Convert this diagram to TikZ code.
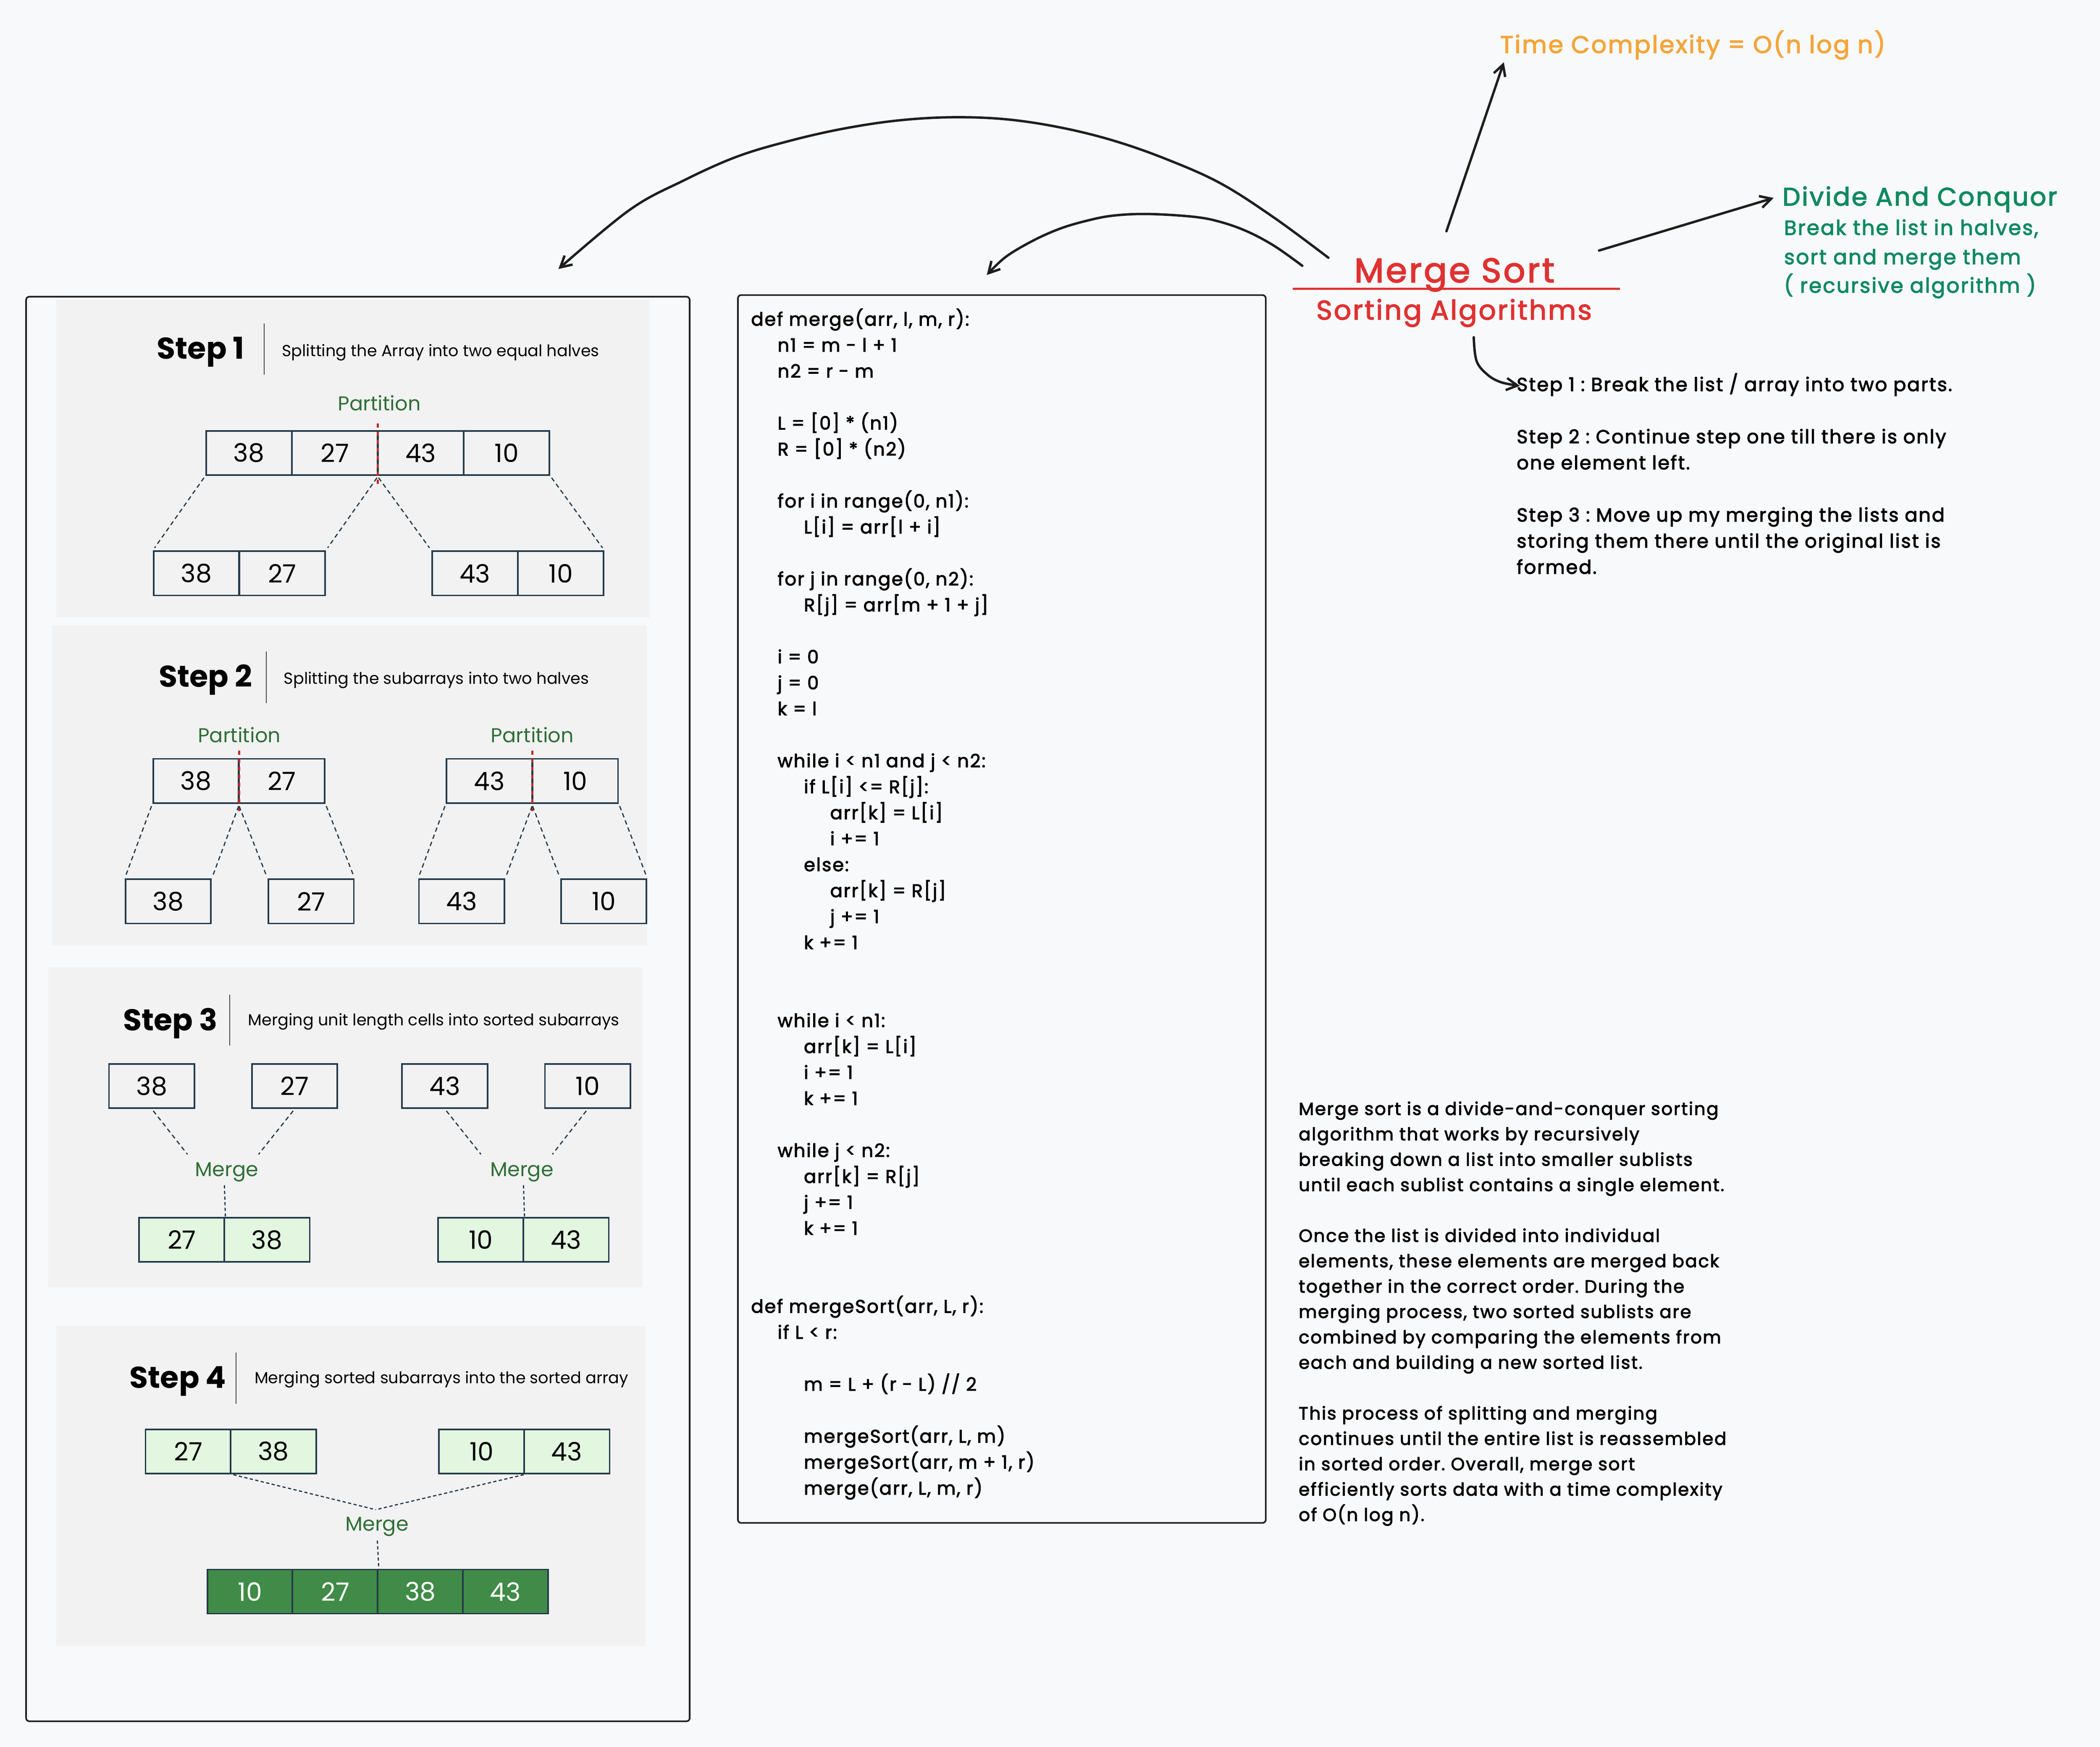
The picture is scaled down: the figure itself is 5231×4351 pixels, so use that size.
\documentclass[tikz,border=0pt]{standalone}
\usepackage{fontspec}
\setmainfont{Poppins}
\newfontfamily\hand[LetterSpace=6, FakeBold=2.6]{Poppins}
\usetikzlibrary{arrows.meta}
\definecolor{bg}{HTML}{F8F9FB}
\definecolor{panel}{HTML}{F2F2F2}
\definecolor{navy}{HTML}{243A4B}
\definecolor{pgreen}{HTML}{2F6F36}
\definecolor{lgreen}{HTML}{E2F6E0}
\definecolor{dgreen}{HTML}{408B47}
\definecolor{ink}{HTML}{1E1E1E}
\definecolor{exred}{HTML}{E03131}
\definecolor{exorange}{HTML}{F4A53A}
\definecolor{exgreen}{HTML}{0F8A5F}
\definecolor{partred}{HTML}{C62828}
\newcommand\indA{\hspace*{13.2pt}}
\newcommand\indB{\hspace*{26.3pt}}
\newcommand\indC{\hspace*{39.4pt}}
\frenchspacing
\begin{document}
\begin{tikzpicture}[x=0.2pt,y=-0.2pt,
  cell/.style={draw=navy, line width=0.8pt, fill=panel, minimum width=42.6pt, minimum height=22pt, inner sep=0pt, font=\fontsize{12.6pt}{15pt}\selectfont},
  cellg/.style={cell, fill=lgreen},
  celld/.style={cell, fill=dgreen, text=white},
  dsh/.style={navy, line width=0.6pt, dash pattern=on 2.2pt off 1.6pt},
  dot/.style={navy, line width=0.6pt, dash pattern=on 1.6pt off 1.2pt},
  prt/.style={partred, line width=1pt, dash pattern=on 2pt off 2pt},
  sepl/.style={black!75, line width=0.45pt},
  stephead/.style={anchor=base west, inner sep=0pt, font=\bfseries\fontsize{15pt}{18pt}\selectfont},
  stepsub/.style={anchor=base west, inner sep=0pt, font=\fontsize{8pt}{10pt}\selectfont},
  glabel/.style={anchor=base, inner sep=0pt, text=pgreen, font=\fontsize{10pt}{12pt}\selectfont},
  outer/.style={draw=ink, line width=0.8pt, rounded corners=1.6pt},
  arr/.style={draw=ink, line width=1.2pt, line cap=round, -{Straight Barb[length=5.5pt, width=6pt, line width=1.2pt]}},
  hw/.style={inner sep=0pt, font=\hand}
]
\useasboundingbox (0,0) rectangle (5231,4351);
\fill[bg] (0,0) rectangle (5231,4351);

% ---------- left panel ----------
\draw[outer] (65,739) rectangle (1718,4287);
\fill[panel] (140,747) rectangle (1618,1538);
\fill[panel] (130,1558) rectangle (1611,2355);
\fill[panel] (120,2409) rectangle (1601,3206);
\fill[panel] (140,3303) rectangle (1608,4100);

% Step 1
\node[stephead] (st1) at (390,894) {Step 1};
\draw[sepl] (658,806) -- (658,933);
\node[stepsub] (sd1) at (701,888) {Splitting the Array into two equal halves};
\node[glabel] (p1) at (945,1023) {Partition};
\node[cell] (a1) at (620,1128) {38};
\node[cell] (a2) at (834,1128) {27};
\node[cell] (a3) at (1048,1128) {43};
\node[cell] (a4) at (1262,1128) {10};
\node[cell] (b1) at (489,1428) {38};
\node[cell] (b2) at (703,1428) {27};
\node[cell] (b3) at (1183,1428) {43};
\node[cell] (b4) at (1397,1428) {10};
\draw[prt] (941,1055) -- (941,1206);
\draw[dsh, shorten <=1.2pt, shorten >=1.6pt] (a1.south west) -- (b1.north west);
\draw[dsh, shorten <=1.2pt, shorten >=1.6pt] (a2.south east) -- (b2.north east);
\draw[dsh, shorten <=1.2pt, shorten >=1.6pt] (a3.south west) -- (b3.north west);
\draw[dsh, shorten <=1.2pt, shorten >=1.6pt] (a4.south east) -- (b4.north east);

% Step 2
\node[stephead] (st2) at (395,1711) {Step 2};
\draw[sepl] (663,1623) -- (663,1751);
\node[stepsub] (sd2) at (706,1704) {Splitting the subarrays into two halves};
\node[glabel] (p2a) at (596,1849) {Partition};
\node[glabel] (p2b) at (1326,1849) {Partition};
\node[cell] (c1) at (488,1945) {38};
\node[cell] (c2) at (702,1945) {27};
\node[cell] (c3) at (1219,1945) {43};
\node[cell] (c4) at (1433,1945) {10};
\node[cell] (d1) at (419,2245) {38};
\node[cell] (d2) at (775,2245) {27};
\node[cell] (d3) at (1150,2245) {43};
\node[cell] (d4) at (1504,2245) {10};
\draw[prt] (596,1870) -- (596,2025);
\draw[prt] (1326,1870) -- (1326,2025);
\draw[dsh, shorten <=1.2pt, shorten >=1.6pt] (c1.south west) -- (d1.north west);
\draw[dsh, shorten <=1.2pt, shorten >=1.6pt] (c1.south east) -- (d1.north east);
\draw[dsh, shorten <=1.2pt, shorten >=1.6pt] (c2.south west) -- (d2.north west);
\draw[dsh, shorten <=1.2pt, shorten >=1.6pt] (c2.south east) -- (d2.north east);
\draw[dsh, shorten <=1.2pt, shorten >=1.6pt] (c3.south west) -- (d3.north west);
\draw[dsh, shorten <=1.2pt, shorten >=1.6pt] (c3.south east) -- (d3.north east);
\draw[dsh, shorten <=1.2pt, shorten >=1.6pt] (c4.south west) -- (d4.north west);
\draw[dsh, shorten <=1.2pt, shorten >=1.6pt] (c4.south east) -- (d4.north east);

% Step 3
\node[stephead] (st3) at (306,2567) {Step 3};
\draw[sepl] (572,2477) -- (572,2604);
\node[stepsub] (sd3) at (617,2554) {Merging unit length cells into sorted subarrays};
\node[cell] (e1) at (378,2705) {38};
\node[cell] (e2) at (734,2705) {27};
\node[cell] (e3) at (1108,2705) {43};
\node[cell] (e4) at (1464,2705) {10};
\node[glabel] (m3a) at (565,2930) {Merge};
\node[glabel] (m3b) at (1300,2930) {Merge};
\node[cellg] (f1) at (453,3088) {27};
\node[cellg] (f2) at (665,3088) {38};
\node[cellg] (f3) at (1198,3088) {10};
\node[cellg] (f4) at (1410,3088) {43};
\coordinate (m3al) at (467,2875);
\coordinate (m3ar) at (644,2875);
\coordinate (m3bl) at (1198,2875);
\coordinate (m3br) at (1376,2875);
\coordinate (m3ad) at (559,2952);
\coordinate (m3bd) at (1304,2952);
\draw[dsh, shorten <=1.2pt] (e1.south) -- (m3al);
\draw[dsh, shorten <=1.2pt] (e2.south) -- (m3ar);
\draw[dsh, shorten <=1.2pt] (e3.south) -- (m3bl);
\draw[dsh, shorten <=1.2pt] (e4.south) -- (m3br);
\draw[dot] (m3ad) -- (f1.north east);
\draw[dot] (m3bd) -- (f3.north east);

% Step 4
\node[stephead] (st4) at (322,3457) {Step 4};
\draw[sepl] (588,3369) -- (588,3496);
\node[stepsub] (sd4) at (633,3446) {Merging sorted subarrays into the sorted array};
\node[cellg] (g1) at (469,3615) {27};
\node[cellg] (g2) at (681,3615) {38};
\node[cellg] (g3) at (1200,3615) {10};
\node[cellg] (g4) at (1412,3615) {43};
\node[glabel] (m4) at (939,3813) {Merge};
\node[celld] (h1) at (623,3964) {10};
\node[celld] (h2) at (835,3964) {27};
\node[celld] (h3) at (1047,3964) {38};
\node[celld] (h4) at (1259,3964) {43};
\coordinate (m4t) at (936,3760);
\coordinate (m4d) at (940,3837);
\draw[dot, shorten <=0.8pt] (g1.south east) -- (m4t);
\draw[dot, shorten <=0.8pt] (g3.south east) -- (m4t);
\draw[dot] (m4d) -- (h2.north east);

% ---------- code panel ----------
\draw[outer] (1838,735) rectangle (3153,3793);
\node[anchor=base west, inner sep=0pt, font=\hand\fontsize{9.1pt}{12.94pt}\selectfont] (code) at (1870,811) {%
\begin{tabular}[t]{@{}l@{}}
def merge(arr, l, m, r):\\
\indA n1 = m - l + 1\\
\indA n2 = r - m\\
\\
\indA L = [0] * (n1)\\
\indA R = [0] * (n2)\\
\\
\indA for i in range(0, n1):\\
\indB L[i] = arr[l + i]\\
\\
\indA for j in range(0, n2):\\
\indB R[j] = arr[m + 1 + j]\\
\\
\indA i = 0\\
\indA j = 0\\
\indA k = l\\
\\
\indA while i < n1 and j < n2:\\
\indB if L[i] <= R[j]:\\
\indC arr[k] = L[i]\\
\indC i += 1\\
\indB else:\\
\indC arr[k] = R[j]\\
\indC j += 1\\
\indB k += 1\\
\\
\\
\indA while i < n1:\\
\indB arr[k] = L[i]\\
\indB i += 1\\
\indB k += 1\\
\\
\indA while j < n2:\\
\indB arr[k] = R[j]\\
\indB j += 1\\
\indB k += 1\\
\\
\\
def mergeSort(arr, L, r):\\
\indA if L < r:\\
\\
\indB m = L + (r - L) // 2\\
\\
\indB mergeSort(arr, L, m)\\
\indB mergeSort(arr, m + 1, r)\\
\indB merge(arr, L, m, r)
\end{tabular}};

% ---------- right side ----------
\node[hw, anchor=base, text=exred, font=\hand\fontsize{17pt}{20pt}\selectfont] (ms) at (3623,703) {Merge Sort};
\draw[exred, line width=1pt] (3220,719) -- (4035,719);
\node[hw, anchor=base, text=exred, font=\hand\fontsize{13.5pt}{16pt}\selectfont] (sa) at (3622,796) {Sorting Algorithms};

\node[hw, anchor=base west, text=exorange, font=\hand\fontsize{12pt}{14pt}\selectfont] (tc) at (3736,132) {Time Complexity = O(n log n)};
\node[hw, anchor=base west, text=exgreen, font=\hand\fontsize{12.6pt}{15pt}\selectfont] (dc) at (4439,512) {Divide And Conquor};
\node[hw, anchor=base west, text=exgreen, font=\hand\fontsize{10.2pt}{14.5pt}\selectfont] (dc1) at (4443,585) {Break the list in halves,};
\node[hw, anchor=base west, text=exgreen, font=\hand\fontsize{10.2pt}{14.5pt}\selectfont] (dc2) at (4443,658) {sort and merge them};
\node[hw, anchor=base west, text=exgreen, font=\hand\fontsize{10.2pt}{14.5pt}\selectfont] (dc3) at (4443,729) {( recursive algorithm )};

\node[hw, anchor=base west, font=\hand\fontsize{9.4pt}{13pt}\selectfont] (steps) at (3777,974) {%
\begin{tabular}[t]{@{}l@{}}
Step 1 : Break the list / array into two parts.\\
\\
Step 2 : Continue step one till there is only\\
one element left.\\
\\
Step 3 : Move up my merging the lists and\\
storing them there until the original list is\\
formed.
\end{tabular}};

\node[hw, anchor=base west, font=\hand\fontsize{8.8pt}{12.64pt}\selectfont] (para) at (3234,2777) {%
\begin{tabular}[t]{@{}l@{}}
Merge sort is a divide-and-conquer sorting\\
algorithm that works by recursively\\
breaking down a list into smaller sublists\\
until each sublist contains a single element.\\
\\
Once the list is divided into individual\\
elements, these elements are merged back\\
together in the correct order. During the\\
merging process, two sorted sublists are\\
combined by comparing the elements from\\
each and building a new sorted list.\\
\\
This process of splitting and merging\\
continues until the entire list is reassembled\\
in sorted order. Overall, merge sort\\
efficiently sorts data with a time complexity\\
of O(n log n).
\end{tabular}};

% ---------- arrows ----------
\coordinate (tcs) at (3603,576);
\coordinate (tce) at (3746,155);
\draw[arr] (tcs) -- (tce);
\coordinate (dcs) at (3983,624);
\coordinate (dce) at (4418,493);
\draw[arr] (dcs) -- (dce);
\draw[arr] plot[smooth, tension=0.6] coordinates {(3671,840) (3678,899) (3705,933) (3739,952) (3786,961)};
\draw[arr] plot[smooth, tension=0.6] coordinates {(3309,642) (3175,543) (3041,457) (2907,397) (2773,350) (2639,317) (2505,297) (2371,292) (2237,300) (2103,320) (1970,350) (1836,390) (1702,450) (1568,523) (1391,670)};
\draw[arr] plot[smooth, tension=0.6] coordinates {(3244,662) (3175,613) (3108,577) (3041,553) (2974,540) (2860,533) (2773,537) (2706,550) (2639,570) (2572,600) (2505,640) (2458,685)};
\end{tikzpicture}
\end{document}
